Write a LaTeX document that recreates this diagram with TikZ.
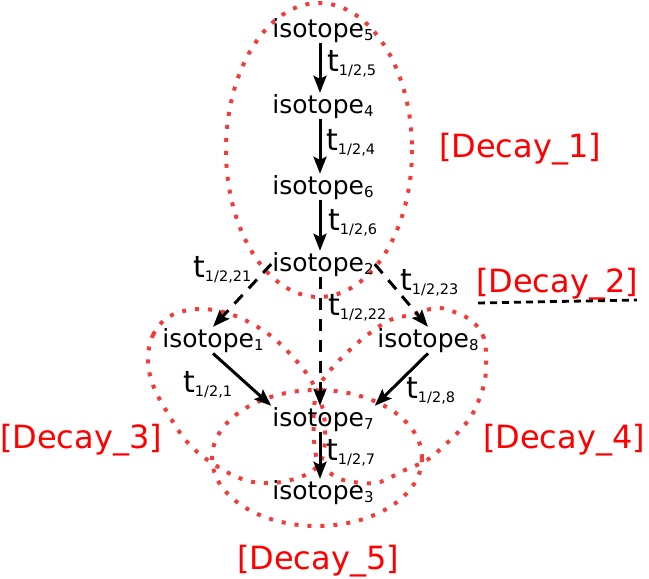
\documentclass[tikz,border=0pt]{standalone}
\usepackage{fontspec}
\setmainfont{DejaVu Sans}
\usetikzlibrary{arrows.meta}
\definecolor{dotred}{RGB}{242,60,60}
\definecolor{labred}{RGB}{255,0,0}
\newcommand{\isolab}[1]{{\fontsize{25}{25}\selectfont isotope\raisebox{-3.5pt}{\fontsize{15}{15}\selectfont #1}}}
\newcommand{\tlab}[1]{{\fontsize{30}{30}\selectfont t\raisebox{-4pt}{\fontsize{14.5}{14.5}\selectfont 1/2,#1}}}
\begin{document}
\begin{tikzpicture}[x=1pt,y=-1pt,
  isonode/.style={inner sep=1pt, anchor=base},
  tnode/.style={inner sep=0pt, anchor=base west},
  decaylab/.style={text=labred, font=\fontsize{32}{32}\selectfont, inner sep=0pt},
  arr/.style={line width=3pt, -{Stealth[length=17pt,width=13pt,inset=3pt]}},
  darr/.style={arr, dash pattern=on 12pt off 9pt},
  grp/.style={draw=dotred, line width=4pt, dash pattern=on 4pt off 9pt}]
\useasboundingbox (0,0) rectangle (649,579);

% groups
\draw[grp] (319,150) ellipse [x radius=93, y radius=147];
\draw[grp] (317,458) ellipse [x radius=105, y radius=68];
\draw[grp] plot[smooth cycle, tension=0.6] coordinates {
  (148,360) (153,335) (170,316) (200,309) (233,315) (267,333) (293,357)
  (312,382) (323,410) (325,440) (320,463) (303,476) (273,483) (245,480)
  (215,465) (188,443) (167,412) (153,385)};
\draw[grp] plot[smooth cycle, tension=0.6] coordinates {
  (486,360) (484,338) (473,322) (457,313) (437,308) (410,315) (390,320)
  (370,333) (353,347) (333,367) (318,388) (314,410) (314,440) (318,462)
  (330,473) (343,480) (363,483) (380,482) (405,470) (427,460) (447,443)
  (463,427) (473,413) (480,397) (485,380)};

% isotope nodes
\node[isonode] (n5) at (323,37)  {\isolab{5}};
\node[isonode] (n4) at (323,113) {\isolab{4}};
\node[isonode] (n6) at (323,194) {\isolab{6}};
\node[isonode] (n2) at (323,271) {\isolab{2}};
\node[isonode] (n1) at (213,347) {\isolab{1}};
\node[isonode] (n8) at (428,347) {\isolab{8}};
\node[isonode] (n7) at (323,426) {\isolab{7}};
\node[isonode] (n3) at (323,499) {\isolab{3}};

% edges
\draw[arr] ([xshift=-3pt]n5.south) -- ([xshift=-3pt]n4.north);
\draw[arr] ([xshift=-3pt]n4.south) -- ([xshift=-3pt]n6.north);
\draw[arr] ([xshift=-3pt]n6.south) -- ([xshift=-3pt]n2.north);
\draw[darr] (n2.west) -- (n1.north);
\draw[darr] ([xshift=-3pt]n2.south) -- ([xshift=-3pt]n7.north);
\draw[darr] (n2.east) -- (n8.north);
\draw[arr] (n1.south) -- (n7.north west);
\draw[arr] (n8.south) -- (n7.north east);
\draw[arr] ([xshift=-3pt]n7.south) -- ([xshift=-3pt]n3.north);

% edge labels
\node[tnode] (t5)  at (327,71)  {\tlab{5}};
\node[tnode] (t4)  at (326,150) {\tlab{4}};
\node[tnode] (t6)  at (328,230) {\tlab{6}};
\node[tnode] (t21) at (193,277) {\tlab{21}};
\node[tnode] (t22) at (328,315) {\tlab{22}};
\node[tnode] (t23) at (400,290) {\tlab{23}};
\node[tnode] (t1)  at (183,392) {\tlab{1}};
\node[tnode] (t8)  at (406,398) {\tlab{8}};
\node[tnode] (t7)  at (326,460) {\tlab{7}};

% group labels
\node[decaylab] (d1) at (520,149) {[Decay\_1]};
\node[decaylab] (d2) at (557,284) {[Decay\_2]};
\node[decaylab] (d3) at (81,440)  {[Decay\_3]};
\node[decaylab] (d4) at (564,440) {[Decay\_4]};
\node[decaylab] (d5) at (318,561) {[Decay\_5]};
\coordinate (l2a) at (478,303);
\coordinate (l2b) at (637,300);
\draw[line width=2.8pt, dash pattern=on 7pt off 5pt] (l2a) -- (l2b);
\end{tikzpicture}
\end{document}
